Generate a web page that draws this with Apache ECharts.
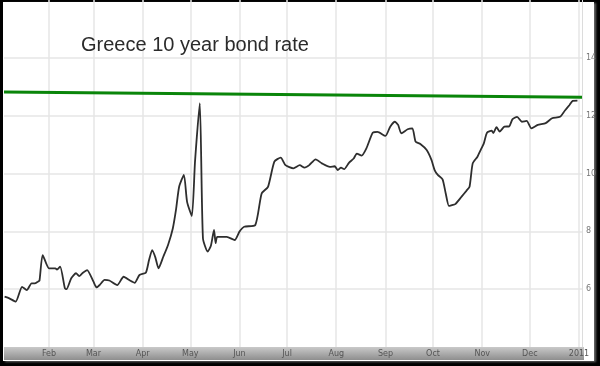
<!DOCTYPE html>
<html>
<head>
<meta charset="utf-8">
<script src="https://cdn.jsdelivr.net/npm/echarts@6/dist/echarts.min.js"></script>
<style>
  html, body { margin: 0; padding: 0; background: #000; }
  #frame { position: absolute; left: 3px; top: 2px; width: 591px; height: 359px; background: #fff; box-shadow: 2px 1px 2px #666; }
  #band { position: absolute; left: 4px; top: 347px; width: 580px; height: 13px; background: linear-gradient(#c9c9c9, #8e8e8e); }
  #chart { position: absolute; left: 0; top: 0; width: 600px; height: 366px; }
</style>
</head>
<body>
<div id="frame"></div>
<div id="band"></div>
<div id="chart"></div>
<script>
const titleText = 'Greece 10 year bond rate';

const dates = [
  '2010-01-04','2010-01-07','2010-01-11','2010-01-15','2010-01-18','2010-01-21','2010-01-23','2010-01-25','2010-01-26','2010-01-28',
  '2010-02-01','2010-02-05','2010-02-06','2010-02-08','2010-02-11','2010-02-12','2010-02-15','2010-02-18','2010-02-20','2010-02-22',
  '2010-02-25','2010-03-01','2010-03-03','2010-03-05','2010-03-08','2010-03-11','2010-03-16','2010-03-20','2010-03-24','2010-03-27',
  '2010-03-30','2010-04-03','2010-04-05','2010-04-07','2010-04-09','2010-04-11','2010-04-14','2010-04-17','2010-04-20','2010-04-22',
  '2010-04-24','2010-04-27','2010-04-29','2010-05-02','2010-05-04','2010-05-07','2010-05-09','2010-05-12','2010-05-14','2010-05-16',
  '2010-05-17','2010-05-18','2010-05-24','2010-05-29','2010-06-01','2010-06-04','2010-06-11','2010-06-15','2010-06-19','2010-06-23',
  '2010-06-27','2010-06-30','2010-07-05','2010-07-09','2010-07-12','2010-07-15','2010-07-19','2010-07-23','2010-07-28','2010-07-31',
  '2010-08-02','2010-08-04','2010-08-06','2010-08-09','2010-08-12','2010-08-14','2010-08-17','2010-08-20','2010-08-24','2010-08-27',
  '2010-09-01','2010-09-04','2010-09-07','2010-09-09','2010-09-11','2010-09-15','2010-09-18','2010-09-20','2010-09-23','2010-09-27',
  '2010-09-30','2010-10-02','2010-10-04','2010-10-07','2010-10-09','2010-10-11','2010-10-13','2010-10-15','2010-10-19','2010-10-22',
  '2010-10-24','2010-10-26','2010-10-29','2010-10-31','2010-11-02','2010-11-04','2010-11-07','2010-11-08','2010-11-10','2010-11-12',
  '2010-11-15','2010-11-18','2010-11-20','2010-11-23','2010-11-26','2010-11-29','2010-12-02','2010-12-06','2010-12-11','2010-12-15',
  '2010-12-20','2010-12-23','2010-12-26','2010-12-28','2010-12-31'
];

const rates = [
  5.74, 5.68, 5.57, 6.08, 5.97, 6.20, 6.20, 6.26, 6.30, 7.18,
  6.72, 6.72, 6.68, 6.78, 6.03, 6.00, 6.38, 6.55, 6.45, 6.55,
  6.66, 6.26, 6.06, 6.15, 6.32, 6.30, 6.14, 6.43, 6.30, 6.22,
  6.49, 6.57, 7.00, 7.35, 7.10, 6.72, 7.12, 7.53, 8.10, 8.74,
  9.54, 9.95, 9.02, 8.53, 10.41, 12.43, 7.76, 7.30, 7.50, 8.05,
  7.59, 7.81, 7.81, 7.70, 7.99, 8.16, 8.22, 9.31, 9.54, 10.41,
  10.55, 10.29, 10.18, 10.29, 10.20, 10.29, 10.49, 10.35, 10.23, 10.25,
  10.12, 10.20, 10.15, 10.37, 10.52, 10.69, 10.62, 10.87, 11.41, 11.44,
  11.30, 11.62, 11.79, 11.68, 11.39, 11.53, 11.56, 11.10, 11.02, 10.81,
  10.47, 10.12, 9.95, 9.80, 9.31, 8.88, 8.91, 8.94, 9.20, 9.40,
  9.54, 10.35, 10.58, 10.81, 11.04, 11.41, 11.48, 11.40, 11.60, 11.45,
  11.62, 11.63, 11.87, 11.96, 11.79, 11.82, 11.56, 11.68, 11.74, 11.91,
  11.96, 12.17, 12.37, 12.51, 12.52
];

// resistance line (green)
const trendDates = ['2010-01-03 15:00', '2011-01-02 21:00'];
const trendValues = [12.82, 12.64];

const xTickDates = ['2010-02-01','2010-03-01','2010-04-01','2010-05-01','2010-06-01','2010-07-01',
                    '2010-08-01','2010-09-01','2010-10-01','2010-11-01','2010-12-01','2011-01-01'];
const xTickLabels = ['Feb','Mar','Apr','May','Jun','Jul','Aug','Sep','Oct','Nov','Dec','2011'];
const yTickValues = [6, 8, 10, 12, 14];
const yTickLabels = ['6', '8', '10', '12', '14'];

function toTs(s) {
  const m = s.match(/(\d+)-(\d+)-(\d+)(?: (\d+):(\d+))?/);
  return Date.UTC(+m[1], +m[2] - 1, +m[3], m[4] ? +m[4] : 0, m[5] ? +m[5] : 0);
}
const xTickTs = xTickDates.map(toTs);
const labelByTs = {};
xTickTs.forEach((t, i) => { labelByTs[t] = xTickLabels[i]; });
const yLabelByVal = {};
yTickValues.forEach((v, i) => { yLabelByVal[v] = yTickLabels[i]; });

const chart = echarts.init(document.getElementById('chart'), null, { renderer: 'canvas' });
chart.setOption({
  animation: false,
  backgroundColor: 'transparent',
  title: {
    text: titleText,
    left: 76,
    top: 30,
    textStyle: { fontFamily: 'Liberation Sans, Arial, sans-serif', fontSize: 20, fontWeight: 'normal', color: '#2b2b2b' }
  },
  grid: { left: 4, right: 18, top: 0, bottom: 19, containLabel: false },
  xAxis: {
    type: 'value',
    min: toTs(trendDates[0]),
    max: toTs(trendDates[1]),
    axisLine: { show: false },
    axisTick: { show: false, customValues: xTickTs },
    axisLabel: {
      customValues: xTickTs,
      margin: 3,
      fontSize: 8,
      fontFamily: 'DejaVu Sans, sans-serif',
      color: '#555',
      formatter: v => labelByTs[v] || ''
    },
    splitLine: { show: true, lineStyle: { color: '#e6e6e6', width: 1.5 } }
  },
  yAxis: {
    type: 'value',
    position: 'right',
    min: 4,
    max: 16,
    axisLine: { show: true, lineStyle: { color: '#dcdcdc', width: 1 } },
    axisTick: { show: false, customValues: yTickValues },
    axisLabel: {
      customValues: yTickValues,
      margin: 4,
      fontSize: 8,
      fontFamily: 'DejaVu Sans, sans-serif',
      color: '#777',
      formatter: v => yLabelByVal[v] || ''
    },
    splitLine: { show: true, lineStyle: { color: '#e6e6e6', width: 1.5 } }
  },
  series: [
    {
      name: 'Greece 10Y',
      type: 'line',
      data: dates.map((d, i) => [toTs(d), rates[i]]),
      showSymbol: false,
      smooth: 0.2,
      lineStyle: { color: '#2e2e2e', width: 1.8 },
      z: 3
    },
    {
      name: 'Resistance',
      type: 'line',
      data: trendDates.map((d, i) => [toTs(d), trendValues[i]]),
      showSymbol: false,
      lineStyle: { color: '#0a850a', width: 3 },
      z: 4
    }
  ]
});
</script>
</body>
</html>
